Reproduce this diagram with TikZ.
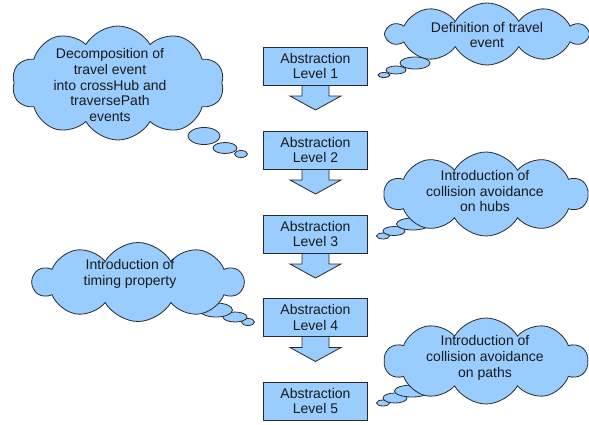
\documentclass[tikz,border=0pt]{standalone}
\usepackage{fontspec}
\setmainfont{Liberation Sans}
\usetikzlibrary{shapes.symbols,shapes.geometric,calc}
\definecolor{skyfill}{HTML}{99CCFF}
\definecolor{edge}{HTML}{2A2A2A}
\definecolor{ink}{HTML}{1A1A1A}
\tikzset{
  levelbox/.style={draw=edge, line width=0.8pt, fill=skyfill, minimum width=104pt, minimum height=38pt, inner sep=0pt},
  blockarrow/.style={draw=edge, line width=0.8pt, fill=skyfill, line join=miter},
  thought/.style={cloud, cloud puffs=10, cloud puff arc=120, draw=edge, line width=0.8pt, fill=skyfill, inner sep=0pt},
  bubble/.style={ellipse, draw=edge, line width=0.8pt, fill=skyfill, inner sep=0pt},
  txt/.style={align=center, text=ink, font=\fontsize{14}{15.8}\selectfont, inner sep=0pt},
}
\begin{document}
\begin{tikzpicture}[x=1pt,y=-1pt]
\useasboundingbox (0,0) rectangle (589,424);
% boxes
\foreach \i/\yy in {1/66,2/150,3/234,4/317.5,5/401}{
  \coordinate (c\i) at (315.5,\yy);
}
% arrows (drawn first so box borders sit on top)
\foreach \i in {1,2,3,4}{
  \draw[blockarrow] ($(c\i)+(-13.5,19)$) -- ($(c\i)+(-13.5,30)$) -- ($(c\i)+(-25.5,30)$)
     -- ($(c\i)+(0,44)$) -- ($(c\i)+(25.5,30)$) -- ($(c\i)+(13.5,30)$) -- ($(c\i)+(13.5,19)$);
}
\foreach \i in {1,2,3,4,5}{
  \node[levelbox] (b\i) at (c\i) {};
  \node[txt] (t\i) at (b\i.center) {Abstraction\\Level \i};
}
% cloud A
\node[bubble, minimum width=12, minimum height=5] (a3) at (384,75) {};
\node[bubble, minimum width=20, minimum height=8] (a2) at (396,70) {};
\node[bubble, minimum width=30, minimum height=12] (a1) at (415,63) {};
\node[thought, minimum width=200, minimum height=62, aspect=3.2] (ca) at (487,34) {};
\node[txt] (ta) at (487,35) {Definition of travel\\event};
% cloud B
\node[bubble, minimum width=13, minimum height=7] (bb3) at (241,154) {};
\node[bubble, minimum width=24, minimum height=11] (bb2) at (225,148) {};
\node[bubble, minimum width=32, minimum height=17] (bb1) at (204,136) {};
\node[thought, minimum width=212, minimum height=114, aspect=1.85] (cb) at (118,83) {};
\node[txt] (tb) at (110,85) {Decomposition of\\travel event\\into crossHub and\\traversePath\\events};
% cloud C
\node[bubble, minimum width=13, minimum height=6] (cc3) at (383,236) {};
\node[bubble, minimum width=22, minimum height=9] (cc2) at (394,231) {};
\node[bubble, minimum width=33, minimum height=12] (cc1) at (413,224) {};
\node[thought, minimum width=203, minimum height=84, aspect=2.4] (cc) at (486,194) {};
\node[txt] (tc) at (485,191) {Introduction of\\collision avoidance\\on hubs};
% cloud D
\node[bubble, minimum width=13, minimum height=7] (dd3) at (248,322) {};
\node[bubble, minimum width=24, minimum height=10] (dd2) at (235,317) {};
\node[bubble, minimum width=33, minimum height=14] (dd1) at (216,310) {};
\node[thought, minimum width=210, minimum height=79, aspect=2.65] (cd) at (138,282) {};
\node[txt] (td) at (130,274) {Introduction of\\timing property};
% cloud E
\node[bubble, minimum width=13, minimum height=6] (ee3) at (383,403) {};
\node[bubble, minimum width=24, minimum height=10] (ee2) at (395,398) {};
\node[bubble, minimum width=35, minimum height=12] (ee1) at (412,391) {};
\node[thought, minimum width=203, minimum height=86, aspect=2.35] (ce) at (486,361) {};
\node[txt] (te) at (485,358) {Introduction of\\collision avoidance\\on paths};
\end{tikzpicture}
\end{document}
